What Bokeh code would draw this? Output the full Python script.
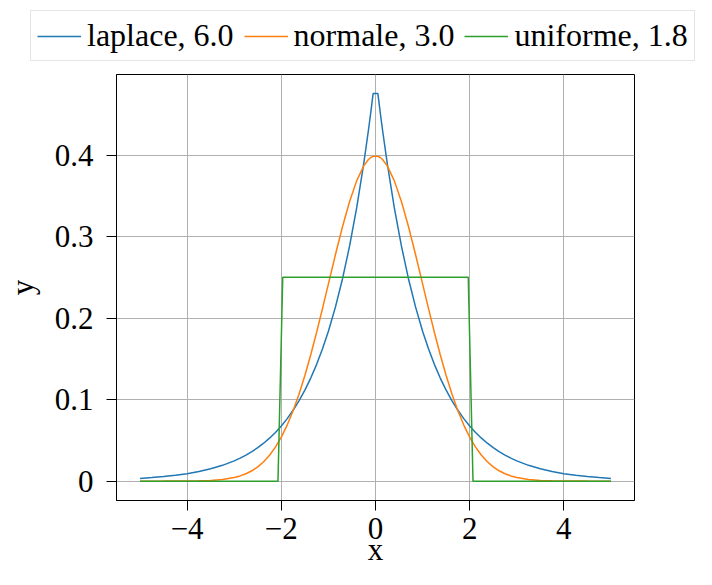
from bokeh.plotting import figure
from bokeh.layouts import column
from bokeh.models import Legend, LegendItem, FixedTicker, Range1d
from bokeh.embed import file_html
from bokeh.resources import INLINE

# shared x positions for the smooth curves
x_smooth = [-5, -4.75, -4.5, -4.25, -4, -3.75, -3.5, -3.25, -3, -2.875, -2.75, -2.625,
            -2.5, -2.375, -2.25, -2.125, -2, -1.875, -1.75, -1.625, -1.5, -1.375, -1.25,
            -1.125, -1, -0.85, -0.7, -0.55, -0.4, -0.25, -0.15, -0.1, -0.0505,
            0.0505, 0.1, 0.15, 0.25, 0.4, 0.55, 0.7, 0.85, 1, 1.125, 1.25, 1.375, 1.5,
            1.625, 1.75, 1.875, 2, 2.125, 2.25, 2.375, 2.5, 2.625, 2.75, 2.875, 3, 3.25,
            3.5, 3.75, 4, 4.25, 4.5, 4.75, 5]

laplace_y = [0.00337, 0.00433, 0.00555, 0.00713, 0.00916, 0.01176, 0.01510, 0.01939,
             0.02489, 0.02821, 0.03196, 0.03622, 0.04104, 0.04651, 0.05270, 0.05972,
             0.06767, 0.07668, 0.08689, 0.09846, 0.11157, 0.12642, 0.14325, 0.16233,
             0.18394, 0.21371, 0.24829, 0.28847, 0.33516, 0.38940, 0.43035, 0.45242,
             0.47538,
             0.47538, 0.45242, 0.43035, 0.38940, 0.33516, 0.28847, 0.24829, 0.21371,
             0.18394, 0.16233, 0.14325, 0.12642, 0.11157, 0.09846, 0.08689, 0.07668,
             0.06767, 0.05972, 0.05270, 0.04651, 0.04104, 0.03622, 0.03196, 0.02821,
             0.02489, 0.01939, 0.01510, 0.01176, 0.00916, 0.00713, 0.00555, 0.00433,
             0.00337]

normale_y = [0.00000, 0.00001, 0.00002, 0.00005, 0.00013, 0.00035, 0.00087, 0.00203,
             0.00443, 0.00640, 0.00909, 0.01273, 0.01753, 0.02377, 0.03174, 0.04172,
             0.05399, 0.06879, 0.08628, 0.10654, 0.12952, 0.15501, 0.18265, 0.21188,
             0.24197, 0.27799, 0.31225, 0.34294, 0.36827, 0.38667, 0.39448, 0.39695,
             0.39843,
             0.39843, 0.39695, 0.39448, 0.38667, 0.36827, 0.34294, 0.31225, 0.27799,
             0.24197, 0.21188, 0.18265, 0.15501, 0.12952, 0.10654, 0.08628, 0.06879,
             0.05399, 0.04172, 0.03174, 0.02377, 0.01753, 0.01273, 0.00909, 0.00640,
             0.00443, 0.00203, 0.00087, 0.00035, 0.00013, 0.00005, 0.00002, 0.00001,
             0.00000]

x_uniforme = [-5, -2.0707, -1.9697, 1.9697, 2.0707, 5]
uniforme_y = [0, 0, 0.25, 0.25, 0, 0]

labels = ["laplace, 6.0", "normale, 3.0", "uniforme, 1.8"]
colors = ["#1f77b4", "#ff7f0e", "#2ca02c"]

x_ticks = [-4, -2, 0, 2, 4]
x_tick_labels = ["\u22124", "\u22122", "0", "2", "4"]
y_ticks = [0, 0.1, 0.2, 0.3, 0.4]
y_tick_labels = ["0", "0.1", "0.2", "0.3", "0.4"]

FONT = "Liberation Serif"
FS = "31px"
W = 696
TOP_H = 73
MAIN_H = 496

# ---- main plot ----
p = figure(width=W, height=MAIN_H, output_backend="svg", toolbar_location=None,
           x_range=Range1d(-5.5, 5.5), y_range=Range1d(-0.02375, 0.49875),
           min_border_left=116, min_border_right=62, min_border_top=1,
           min_border_bottom=69)
p.frame_align = False
p.background_fill_color = "white"
p.border_fill_color = "white"
p.outline_line_color = "black"
p.outline_line_width = 1

r1 = p.line(x_smooth, laplace_y, line_color=colors[0], line_width=1.5)
r2 = p.line(x_smooth, normale_y, line_color=colors[1], line_width=1.5)
r3 = p.line(x_uniforme, uniforme_y, line_color=colors[2], line_width=1.5)

for ax, ticks, tl in ((p.xaxis[0], x_ticks, x_tick_labels), (p.yaxis[0], y_ticks, y_tick_labels)):
    ax.ticker = FixedTicker(ticks=ticks)
    ax.major_label_overrides = {t: l for t, l in zip(ticks, tl)}
    ax.minor_tick_line_color = None
    ax.major_tick_in = 0
    ax.major_tick_out = 10
    ax.major_tick_line_color = "black"
    ax.axis_line_color = "black"
    ax.major_label_text_font = FONT
    ax.major_label_text_font_size = FS
    ax.major_label_text_color = "black"
    ax.axis_label_text_font = FONT
    ax.axis_label_text_font_size = FS
    ax.axis_label_text_font_style = "normal"
    ax.axis_label_text_color = "black"

p.xaxis.axis_label = "x"
p.yaxis.axis_label = "y"
p.xaxis.major_label_standoff = 7
p.yaxis.major_label_standoff = 13
p.xaxis.axis_label_standoff = -10
p.yaxis.axis_label_standoff = 12

p.grid.grid_line_color = "#b0b0b0"
p.grid.grid_line_width = 1

# ---- legend strip above the plot ----
lg = figure(width=W, height=TOP_H, output_backend="svg", toolbar_location=None,
            x_range=Range1d(0, 1), y_range=Range1d(0, 1),
            x_axis_type=None, y_axis_type=None, min_border=0)
lg.frame_align = False
lg.grid.visible = False
lg.outline_line_color = None
lg.background_fill_color = "white"
lg.border_fill_color = "white"
items = []
for lab, col in zip(labels, colors):
    # sample glyph for the legend key only (lies outside the visible range)
    rr = lg.line([5, 6], [5, 6], line_color=col, line_width=1.5)
    items.append(LegendItem(label=lab, renderers=[rr]))

legend = Legend(items=items, orientation="horizontal", location=(30, 12))
legend.margin = 0
legend.padding = 6
legend.spacing = 10
legend.glyph_width = 44
legend.label_standoff = 6
legend.label_text_font = FONT
legend.label_text_font_size = "32px"
legend.label_text_color = "black"
legend.border_line_color = "#cccccc"
legend.background_fill_color = "white"
legend.background_fill_alpha = 1
lg.add_layout(legend, "center")

layout = column(lg, p, spacing=0)
open("out.html", "w").write(file_html(layout, INLINE))
